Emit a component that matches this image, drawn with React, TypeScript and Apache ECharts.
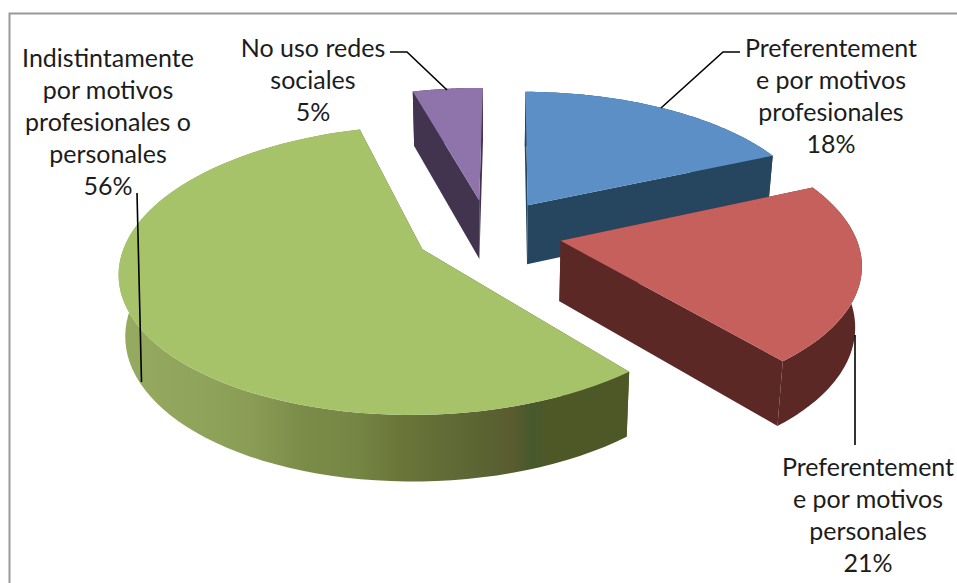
import React, { useEffect, useRef } from "react";
import * as echarts from "echarts";

const categories = [
  "Preferentement\ne por motivos\nprofesionales",
  "Preferentement\ne por motivos\npersonales",
  "Indistintamente\npor motivos\nprofesionales o\npersonales",
  "No uso redes\nsociales",
];
const percentLabels = ["18%", "21%", "56%", "5%"];
const values = [18.2, 20.6, 56.7, 4.5];
const topColors = ["#5b8fc5", "#c5605c", "#a6c36a", "#8f74ab"];
const sideColors = ["#26465f", "#5c2826", "#4e5827", "#42344f"];
const labelAnchors = [
  [831, 31],
  [868, 450],
  [108, 41],
  [313, 31],
];
const leaders = [
  [[740, 52], [723, 52], [661, 108]],
  [[855, 335], [855, 445]],
  [[137, 193], [141.5, 382]],
  [[390, 52], [407, 52], [447, 90]],
];

const CX = 488.5, CY = 233, R = 294, K = 137, D = 7, H = 60, E = 0.25;
const START = 0.01, CONVERGE = 0.018;
const FONT = '25px Lato, "Open Sans", sans-serif';

const total = values.reduce((a, b) => a + b, 0);
const angleAt = (i: number) =>
  START + (values.slice(0, i).reduce((a, b) => a + b, 0) / total) * Math.PI * 2;

function renderItem(params: any, api: any) {
  const i = params.dataIndex;
  const a0 = angleAt(i);
  const a1 = a0 + (api.value(0) / total) * Math.PI * 2;
  const mid = (a0 + a1) / 2;
  const p = (r: number, t: number, z: number) => {
    const X = E * Math.sin(mid) + r * Math.sin(t);
    const Y = -E * Math.cos(mid) - r * Math.cos(t);
    const s = D / (D - Y);
    const x = CX + R * X * s;
    return [x + (CX - x) * z * CONVERGE, CY + K * Y * s + z * H * Math.pow(s, 0.6)];
  };
  const N = 80;
  const arc = (z: number) => {
    const pts: number[][] = [];
    for (let k = 0; k <= N; k++) pts.push(p(1, a0 + ((a1 - a0) * k) / N, z));
    return pts;
  };
  const poly = (points: number[][], fill: any) => ({
    type: "polygon",
    shape: { points },
    style: { fill, stroke: null },
  });
  const wallFill =
    i === 2
      ? new echarts.graphic.LinearGradient(0, 0, 1, 0, [
          { offset: 0, color: "#96aa60" },
          { offset: 0.16, color: "#8fa45a" },
          { offset: 0.26, color: "#8a9c55" },
          { offset: 0.36, color: "#7b8c49" },
          { offset: 0.46, color: "#768745" },
          { offset: 0.55, color: "#6a7639" },
          { offset: 0.69, color: "#5c6634" },
          { offset: 0.77, color: "#5a5c30" },
          { offset: 0.81, color: "#46592c" },
          { offset: 0.84, color: "#4e5827" },
          { offset: 1, color: "#4e5827" },
        ])
      : sideColors[i];
  return {
    type: "group",
    children: [
      poly([p(0, a0, 0), p(1, a0, 0), p(1, a0, 1), p(0, a0, 1)], sideColors[i]),
      poly([p(0, a1, 0), p(1, a1, 0), p(1, a1, 1), p(0, a1, 1)], sideColors[i]),
      poly([...arc(0), ...arc(1).reverse()], wallFill),
      poly([p(0, a0, 0), ...arc(0)], topColors[i]),
    ],
  };
}

export default function App() {
  const ref = useRef<HTMLDivElement>(null);
  useEffect(() => {
    const chart = echarts.init(ref.current!, null, { renderer: "svg" });
    chart.setOption({
      animation: false,
      backgroundColor: "#ffffff",
      series: [
        {
          type: "custom",
          coordinateSystem: "none",
          renderItem,
          silent: true,
          clip: false,
          data: values.map((v) => [v]),
        },
      ],
      graphic: [
        {
          type: "polyline",
          z: 50,
          silent: true,
          shape: { points: [[9.5, 583], [9.5, 13.5], [957, 13.5]] },
          style: { stroke: "#999999", lineWidth: 2, fill: null },
        },
        ...leaders.map((points) => ({
          type: "polyline",
          z: 60,
          silent: true,
          shape: { points },
          style: { stroke: "#000000", lineWidth: 1.6, fill: null },
        })),
        ...categories.map((c, i) => ({
          type: "text",
          z: 70,
          silent: true,
          x: labelAnchors[i][0],
          y: labelAnchors[i][1],
          style: {
            text: `${c}\n${percentLabels[i]}`,
            font: FONT,
            fill: "#1c1c1c",
            align: "center",
            verticalAlign: "top",
            lineHeight: 32,
          },
        })),
      ],
    });
    return () => chart.dispose();
  }, []);
  return (
    <div
      ref={ref}
      style={{ position: "fixed", left: 0, top: 0, width: 957, height: 583 }}
    />
  );
}
